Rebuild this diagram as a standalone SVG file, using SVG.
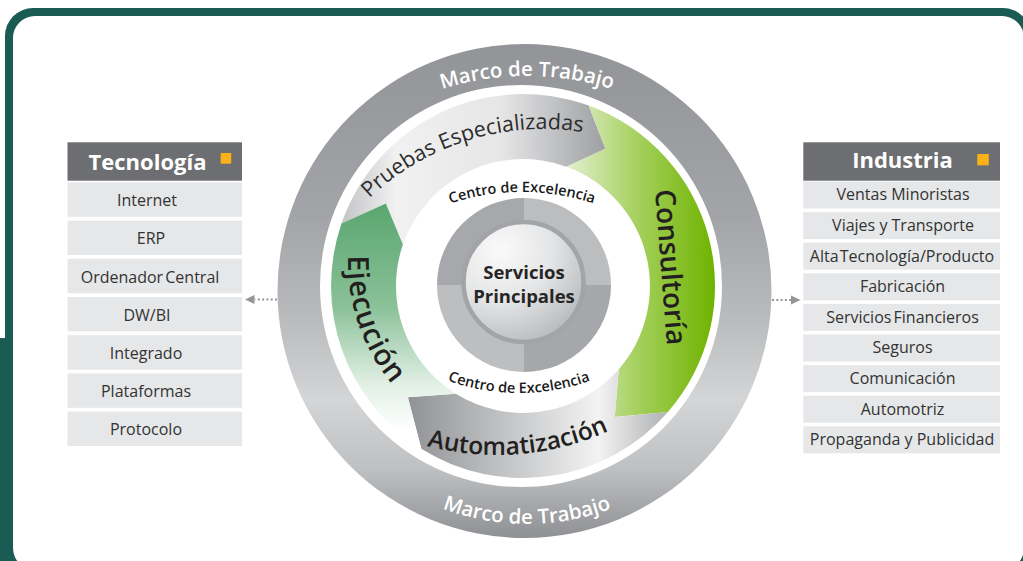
<svg xmlns="http://www.w3.org/2000/svg" width="1023" height="561" viewBox="0 0 1023 561">
<style>
.f{font-family:"Open Sans","Noto Sans","Liberation Sans",sans-serif}
.row{fill:#e6e7e8}
.rt{font-family:"Open Sans","Noto Sans","Liberation Sans",sans-serif;font-size:16px;fill:#333333;text-anchor:middle}
.hd{fill:#6d6e71}
.ht{font-family:"Open Sans","Noto Sans","Liberation Sans",sans-serif;font-size:22px;font-weight:700;fill:#ffffff;text-anchor:middle}
.sq{fill:#fbb117}
.big{font-family:"Open Sans","Noto Sans","Liberation Sans",sans-serif;font-weight:600;fill:#231f20}
.marco{font-family:"Open Sans","Noto Sans","Liberation Sans",sans-serif;font-size:20.5px;font-weight:600;fill:#ffffff}
.coe{font-family:"Open Sans","Noto Sans","Liberation Sans",sans-serif;font-size:14.5px;font-weight:600;fill:#1a1a1a}
.dots{stroke:#939598;stroke-width:2;stroke-dasharray:2 2.3;fill:none}
.ah{fill:#939598}
</style>
<defs>
<linearGradient id="ringG" gradientUnits="userSpaceOnUse" x1="0" y1="44" x2="0" y2="538">
<stop offset="0" stop-color="#929497"/>
<stop offset="0.35" stop-color="#a2a4a7"/>
<stop offset="0.55" stop-color="#b9babc"/>
<stop offset="0.72" stop-color="#d4d5d6"/>
<stop offset="0.86" stop-color="#bfc0c2"/>
<stop offset="1" stop-color="#8e9093"/>
</linearGradient>
<linearGradient id="prG" gradientUnits="userSpaceOnUse" x1="335" y1="0" x2="612" y2="0">
<stop offset="0" stop-color="#bdbec0"/>
<stop offset="0.22" stop-color="#f1f1f2"/>
<stop offset="0.6" stop-color="#e6e6e7"/>
<stop offset="1" stop-color="#999b9e"/>
</linearGradient>
<linearGradient id="coG" gradientUnits="userSpaceOnUse" x1="565" y1="0" x2="715" y2="0">
<stop offset="0" stop-color="#e4f0d3"/>
<stop offset="0.5" stop-color="#a3cf5a"/>
<stop offset="1" stop-color="#6fb300"/>
</linearGradient>
<linearGradient id="auG" gradientUnits="userSpaceOnUse" x1="405" y1="0" x2="690" y2="0">
<stop offset="0" stop-color="#8f9194"/>
<stop offset="0.25" stop-color="#b3b5b7"/>
<stop offset="0.68" stop-color="#f3f3f3"/>
<stop offset="0.87" stop-color="#bdbec0"/>
<stop offset="1" stop-color="#9c9ea1"/>
</linearGradient>
<linearGradient id="ejG" gradientUnits="userSpaceOnUse" x1="0" y1="205" x2="0" y2="430">
<stop offset="0" stop-color="#5aa670"/>
<stop offset="0.45" stop-color="#8ac198"/>
<stop offset="0.8" stop-color="#e2f0e5"/>
<stop offset="1" stop-color="#ffffff"/>
</linearGradient>
<radialGradient id="inG" gradientUnits="userSpaceOnUse" cx="500" cy="250" r="95">
<stop offset="0" stop-color="#fafafa"/>
<stop offset="0.55" stop-color="#e4e5e6"/>
<stop offset="1" stop-color="#bcbec0"/>
</radialGradient>
<path id="tpMarcoTop" d="M284.5,216 A280,280 0 0 1 769.5,216"/>
<path id="tpMarcoBot" d="M319.2,404 A240,240 0 0 0 734.8,404"/>
<path id="tpPruebas" d="M367.9,199.7 A252,252 0 0 1 705,188"/>
<path id="tpCons" d="M655,190 L668,360"/>
<path id="tpEje" d="M373.7,166 A192,192 0 0 0 474.3,442.4"/>
<path id="tpAuto" d="M404,438.6 A272,272 0 0 0 671.8,391.4"/>
<path id="tpCoeTop" d="M374.2,245.8 A230,230 0 0 1 669.8,245.8"/>
<path id="tpCoeBot" d="M384,343.9 A210,210 0 0 0 654,343.9"/>
</defs>

<g id="frame">
<rect x="5" y="8" width="1026" height="600" rx="28" fill="#1a5c53"/>
<rect x="0" y="338" width="10" height="230" fill="#1a5c53"/>
<rect x="13" y="16" width="1011" height="554" rx="22" fill="#ffffff"/>
</g>

<g id="marco-de-trabajo">
<path d="M277.5,291 a247,247 0 1,0 494,0 a247,247 0 1,0 -494,0 Z M320,286 a201,201 0 1,0 402,0 a201,201 0 1,0 -402,0 Z" fill="url(#ringG)" fill-rule="evenodd"/>
<text class="marco"><textPath href="#tpMarcoTop" startOffset="50%" text-anchor="middle">Marco de Trabajo</textPath></text>
<text class="marco"><textPath href="#tpMarcoBot" startOffset="50%" text-anchor="middle">Marco de Trabajo</textPath></text>
</g>

<g id="pruebas">
<path d="M341.5,223.5 A192,192 0 0 1 588.7,105.6 L605.4,148.8 L566.4,166.7 A127,127 0 0 0 402.9,244.6 L385.8,203.6 Z" fill="url(#prG)"/>
<text class="f" font-size="21.5" fill="#2b2b2b"><textPath href="#tpPruebas" startOffset="2">Pruebas Especializadas</textPath></text>
</g>

<g id="consultoria">
<path d="M588.7,105.6 A192,192 0 0 1 667.9,412.0 L614.8,417.1 L618.8,369.3 A127,127 0 0 0 566.4,166.7 L605.4,148.8 Z" fill="url(#coG)"/>
<text class="big" font-size="28"><textPath href="#tpCons" startOffset="0">Consultoría</textPath></text>
</g>

<g id="automatizacion">
<path d="M667.9,412.0 A192,192 0 0 1 421.3,448.8 L407.9,397.2 L455.7,393.7 A127,127 0 0 0 618.8,369.3 L614.8,417.1 Z" fill="url(#auG)"/>
<text class="big" font-size="24.5" fill="#333333"><textPath href="#tpAuto" startOffset="24">Automatización</textPath></text>
</g>

<g id="ejecucion">
<path d="M421.3,448.8 A192,192 0 0 1 341.5,223.5 L385.8,203.6 L402.9,244.6 A127,127 0 0 0 455.7,393.7 L407.9,397.2 Z" fill="url(#ejG)"/>
<text class="big" font-size="29" letter-spacing="0.8"><textPath href="#tpEje" startOffset="94">Ejecución</textPath></text>
</g>

<g id="centro-de-excelencia">
<text class="coe"><textPath href="#tpCoeTop" startOffset="50%" text-anchor="middle">Centro de Excelencia</textPath></text>
<text class="coe"><textPath href="#tpCoeBot" startOffset="50%" text-anchor="middle">Centro de Excelencia</textPath></text>
</g>

<g id="servicios-principales">
<path d="M524,285 L437,285 A87,87 0 0 1 524,198 Z" fill="#a6a8ab"/>
<path d="M524,285 L524,198 A87,87 0 0 1 611,285 Z" fill="#bbbdbf"/>
<path d="M524,285 L611,285 A87,87 0 0 1 524,372 Z" fill="#a5a7aa"/>
<path d="M524,285 L524,372 A87,87 0 0 1 437,285 Z" fill="#bcbec0"/>
<circle cx="523.5" cy="282" r="60" fill="url(#inG)" stroke="#a2a4a7" stroke-width="4.5"/>
<text class="f" x="524" y="278.5" font-size="18.5" font-weight="700" fill="#262626" text-anchor="middle">Servicios</text>
<text class="f" x="524" y="303" font-size="18.5" font-weight="700" fill="#262626" text-anchor="middle">Principales</text>
</g>

<g id="tecnologia">
<rect class="hd" x="67.5" y="142.3" width="174.5" height="38.4"/>
<text class="ht" x="147.5" y="169.5">Tecnología</text>
<rect class="sq" x="220.7" y="153" width="10.5" height="10.7"/>
<rect class="row" x="67.5" y="182.4" width="174.5" height="34.4"/>
<text class="rt" x="147" y="206.2">Internet</text>
<rect class="row" x="67.5" y="220.6" width="174.5" height="34.4"/>
<text class="rt" x="151" y="244.4">ERP</text>
<rect class="row" x="67.5" y="258.8" width="174.5" height="34.4"/>
<text class="rt" x="150" y="282.6" word-spacing="-2">Ordenador Central</text>
<rect class="row" x="67.5" y="297" width="174.5" height="34.4"/>
<text class="rt" x="147" y="320.8">DW/BI</text>
<rect class="row" x="67.5" y="335.2" width="174.5" height="34.4"/>
<text class="rt" x="146" y="359">Integrado</text>
<rect class="row" x="67.5" y="373.4" width="174.5" height="34.4"/>
<text class="rt" x="146" y="397.2">Plataformas</text>
<rect class="row" x="67.5" y="411.6" width="174.5" height="34.4"/>
<text class="rt" x="146" y="435.4">Protocolo</text>
</g>

<g id="industria">
<rect class="hd" x="803.3" y="142.3" width="196.7" height="38.4"/>
<text class="ht" x="902.5" y="167.8">Industria</text>
<rect class="sq" x="977.3" y="154" width="11.5" height="11.3"/>
<rect class="row" x="803.3" y="181.5" width="196.7" height="27"/>
<text class="rt" x="903" y="200.3">Ventas Minoristas</text>
<rect class="row" x="803.3" y="212.1" width="196.7" height="27"/>
<text class="rt" x="903" y="230.9">Viajes y Transporte</text>
<rect class="row" x="803.3" y="242.7" width="196.7" height="27"/>
<text class="rt" x="902" y="261.5" word-spacing="-3">Alta Tecnología/Producto</text>
<rect class="row" x="803.3" y="273.3" width="196.7" height="27"/>
<text class="rt" x="902.5" y="292.1">Fabricación</text>
<rect class="row" x="803.3" y="303.9" width="196.7" height="27"/>
<text class="rt" x="902.5" y="322.7" word-spacing="-2">Servicios Financieros</text>
<rect class="row" x="803.3" y="334.5" width="196.7" height="27"/>
<text class="rt" x="902.5" y="353.3">Seguros</text>
<rect class="row" x="803.3" y="365.1" width="196.7" height="27"/>
<text class="rt" x="902.5" y="383.9">Comunicación</text>
<rect class="row" x="803.3" y="395.7" width="196.7" height="27"/>
<text class="rt" x="902.5" y="414.5">Automotriz</text>
<rect class="row" x="803.3" y="426.3" width="196.7" height="27"/>
<text class="rt" x="902" y="445.1">Propaganda y Publicidad</text>
</g>

<g id="connectors">
<line class="dots" x1="277" y1="299.5" x2="255" y2="299.5"/>
<polygon class="ah" points="245,299.5 254.5,295 254.5,304"/>
<line class="dots" x1="772" y1="300" x2="791" y2="300"/>
<polygon class="ah" points="800.5,300 791,295.5 791,304.5"/>
</g>
</svg>
